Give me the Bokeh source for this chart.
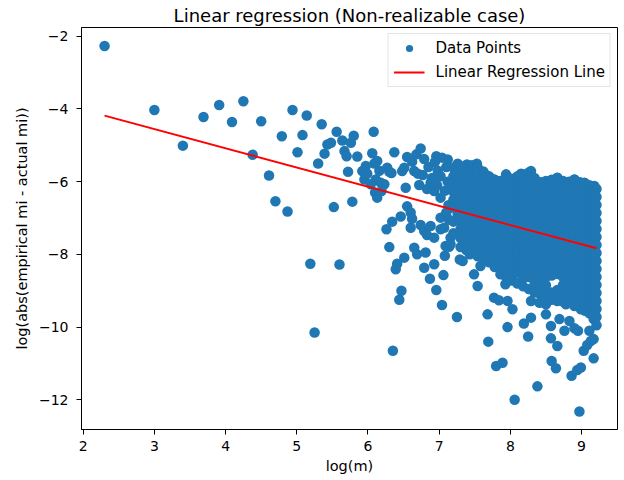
from bokeh.plotting import figure
from bokeh.models import Legend, LegendItem, FixedTicker
from bokeh.embed import file_html
from bokeh.resources import INLINE

# ---- data (x = log(m), y = log(abs(empirical mi - actual mi))) ----
left_m = [2.30, 3.00, 3.40, 3.69, 3.91, 4.09, 4.25, 4.38, 4.50, 4.61, 4.70, 4.79, 4.87, 4.94, 5.01, 5.08, 5.14]
left_err = [-2.27, -4.03, -5.01, -4.22, -3.89, -4.36, -3.79, -5.26, -4.34, -5.83, -6.54, -4.75, -6.82, -4.03, -5.19, -4.72, -4.18]

mid1_m = [5.19, 5.25, 5.30, 5.35, 5.39, 5.43, 5.48, 5.52, 5.56, 5.60, 5.64, 5.67, 5.70, 5.72, 5.76, 5.78, 5.80]
mid1_err = [-8.26, -10.15, -5.50, -4.42, -5.23, -4.98, -4.93, -6.70, -4.63, -8.28, -4.87, -5.16, -5.30, -5.73, -4.93, -6.55, -4.74]

mid2_m = [5.85, 5.92, 5.95, 5.97, 5.99, 6.04, 6.06, 6.08, 6.09, 6.10, 6.11, 6.13, 6.13, 6.16, 6.18, 6.19, 6.23, 6.26, 6.27, 6.30, 6.33, 6.34, 6.35, 6.37]
mid2_err = [-5.31, -5.71, -5.94, -5.57, -5.78, -6.07, -5.22, -4.63, -5.50, -6.30, -5.94, -6.44, -5.43, -5.70, -6.03, -6.26, -6.07, -7.31, -5.62, -5.73, -5.76, -7.10, -10.65, -5.19]

mid3_m = [6.30, 6.39, 6.41, 6.44, 6.46, 6.47, 6.48, 6.51, 6.51, 6.53,
          6.55, 6.55, 6.60, 6.60, 6.62, 6.62, 6.65, 6.65, 6.68, 6.69,
          6.70, 6.72, 6.74, 6.74, 6.77, 6.79, 6.79, 6.79, 6.81, 6.83,
          6.83, 6.85, 6.87, 6.88, 6.88, 6.90, 6.93, 6.93, 6.93, 6.94,
          6.96, 6.96, 6.97, 6.98]
mid3_err = [-7.80, -8.41, -8.26, -9.25, -6.96, -9.00, -5.71, -8.09, -5.62, -6.17,
            -5.32, -6.68, -6.85, -7.27, -5.45, -7.02, -5.71, -7.82, -5.25, -8.00,
            -5.78, -6.09, -5.09, -7.19, -5.82, -5.38, -7.36, -8.37, -7.95, -7.47,
            -6.20, -5.60, -8.67, -6.03, -7.22, -5.90, -6.26, -7.54, -8.27, -5.46,
            -8.98, -5.30, -6.10, -5.70]

mid4_m = [7.02, 7.02, 7.02, 7.02, 7.04, 7.04, 7.06, 7.07, 7.08, 7.09,
          7.10, 7.12, 7.12, 7.13, 7.14, 7.14, 7.16, 7.16, 7.16, 7.08,
          7.10, 7.25, 7.26, 7.29]
mid4_err = [-5.85, -6.44, -6.99, -7.31, -5.34, -9.39, -8.57, -7.27, -8.04, -7.77,
            -5.60, -5.39, -6.00, -6.65, -7.05, -7.79, -6.17, -7.54, -7.72, -6.25,
            -6.85, -9.72, -6.90, -8.14]

top_m = [7.26, 7.39, 7.53, 7.63, 7.77, 7.94, 8.15, 8.29, 8.43, 8.66, 8.90, 9.04, 9.18]
top_err = [-5.51, -5.53, -5.51, -5.76, -5.94, -5.80, -5.78, -5.71, -6.03, -5.89, -5.94, -6.03, -6.12]

low_m = [7.33, 7.43, 7.49, 7.54, 7.58, 7.60, 7.68, 7.69, 7.77, 7.80,
         7.84, 7.89, 7.93, 7.96, 7.96, 8.03, 8.06, 8.10, 8.19, 8.25,
         8.29, 8.29, 8.31, 8.38, 8.41, 8.50, 8.50, 8.57, 8.57, 8.58,
         8.64, 8.66, 8.66, 8.69, 8.76, 8.78, 8.83, 8.86, 8.90, 8.94,
         8.95, 8.97, 8.99, 8.99, 9.03, 9.08, 9.11, 9.13, 9.13, 9.17,
         9.17, 9.17]
low_err = [-8.18, -8.00, -8.55, -8.87, -8.32, -8.04, -9.65, -10.40, -9.19, -11.07,
           -9.26, -10.98, -8.82, -10.00, -9.28, -9.51, -12.00, -8.78, -9.90, -10.26,
           -9.74, -9.28, -8.96, -11.63, -9.33, -9.65, -9.37, -10.31, -9.97, -10.93,
           -11.13, -10.52, -9.28, -9.78, -10.10, -9.37, -9.83, -11.34, -10.03, -11.18,
           -10.10, -12.32, -11.11, -9.51, -10.65, -10.49, -10.10, -10.38, -9.46, -10.86,
           -10.33, -9.78]

# dense cloud: column positions and the values read in each column
blob_m = [7.20, 7.30, 7.38, 7.46, 7.54, 7.62, 7.70, 7.78, 7.86, 7.94,
          8.02, 8.10, 8.18, 8.26, 8.34, 8.42, 8.50, 8.58, 8.66, 8.74,
          8.82, 8.90, 8.98, 9.05, 9.11, 9.16, 9.21]
blob_err = [
    [-5.62, -5.85, -6.05, -6.28, -6.50, -6.72, -7.10, -7.42],
    [-5.58, -5.80, -6.02, -6.22, -6.45, -6.66, -6.88, -7.08, -7.30, -7.55, -7.80],
    [-5.70, -5.92, -6.12, -6.35, -6.55, -6.78, -6.98, -7.20, -7.42, -7.64, -7.88],
    [-5.55, -5.78, -6.00, -6.20, -6.42, -6.62, -6.85, -7.05, -7.26, -7.50, -7.70, -7.95],
    [-5.60, -5.84, -6.06, -6.28, -6.48, -6.70, -6.92, -7.12, -7.35, -7.56, -7.78, -8.05],
    [-5.72, -5.95, -6.15, -6.38, -6.58, -6.80, -7.00, -7.22, -7.44, -7.66, -7.88, -8.15],
    [-5.85, -6.06, -6.28, -6.48, -6.70, -6.90, -7.12, -7.33, -7.55, -7.76, -7.98, -8.22],
    [-5.95, -6.16, -6.38, -6.60, -6.80, -7.02, -7.24, -7.45, -7.66, -7.88, -8.10, -8.35],
    [-5.98, -6.20, -6.42, -6.62, -6.85, -7.06, -7.28, -7.50, -7.72, -7.94, -8.16, -8.40, -8.55],
    [-5.82, -6.05, -6.26, -6.48, -6.70, -6.92, -7.14, -7.35, -7.58, -7.80, -8.02, -8.24, -8.46, -8.62],
    [-5.92, -6.14, -6.36, -6.58, -6.80, -7.02, -7.24, -7.46, -7.68, -7.90, -8.12, -8.35, -8.58, -8.72],
    [-5.85, -6.08, -6.30, -6.52, -6.74, -6.96, -7.18, -7.40, -7.62, -7.84, -8.06, -8.28, -8.50, -8.80],
    [-5.80, -6.02, -6.24, -6.46, -6.68, -6.90, -7.12, -7.34, -7.56, -7.78, -8.00, -8.22, -8.44, -8.66, -8.88],
    [-5.75, -5.98, -6.20, -6.42, -6.64, -6.86, -7.08, -7.30, -7.52, -7.74, -7.96, -8.18, -8.40, -8.62, -8.95],
    [-5.90, -6.12, -6.34, -6.56, -6.78, -7.00, -7.22, -7.44, -7.66, -7.88, -8.10, -8.32, -8.54, -8.76, -9.05],
    [-6.02, -6.24, -6.46, -6.68, -6.90, -7.12, -7.34, -7.56, -7.78, -8.00, -8.22, -8.44, -8.66, -8.88, -9.10],
    [-5.98, -6.20, -6.42, -6.64, -6.86, -7.08, -7.30, -7.52, -7.74, -7.96, -8.18, -8.40, -8.62, -8.85, -9.08, -9.22],
    [-5.95, -6.17, -6.39, -6.61, -6.83, -7.05, -7.27, -7.49, -7.71, -7.93, -8.15, -8.37, -8.58, -9.05, -9.25],
    [-5.90, -6.12, -6.34, -6.56, -6.78, -7.00, -7.22, -7.44, -7.66, -7.88, -8.10, -8.32, -8.54, -8.98, -9.20],
    [-5.98, -6.20, -6.42, -6.64, -6.86, -7.08, -7.30, -7.52, -7.74, -7.96, -8.18, -8.40, -8.62, -8.84, -9.06, -9.30],
    [-6.00, -6.22, -6.44, -6.66, -6.88, -7.10, -7.32, -7.54, -7.76, -7.98, -8.20, -8.42, -8.64, -8.86, -9.08, -9.32],
    [-5.95, -6.17, -6.39, -6.61, -6.83, -7.05, -7.27, -7.49, -7.71, -7.93, -8.15, -8.37, -8.59, -8.81, -9.03, -9.25, -9.42],
    [-6.02, -6.24, -6.46, -6.68, -6.90, -7.12, -7.34, -7.56, -7.78, -8.00, -8.22, -8.44, -8.66, -8.88, -9.10, -9.32],
    [-6.05, -6.27, -6.49, -6.71, -6.93, -7.15, -7.37, -7.59, -7.81, -8.03, -8.25, -8.47, -8.69, -8.91, -9.13, -9.35, -9.55],
    [-6.10, -6.32, -6.54, -6.76, -6.98, -7.20, -7.42, -7.64, -7.86, -8.08, -8.30, -8.52, -8.74, -8.96, -9.18, -9.40, -9.62],
    [-6.14, -6.36, -6.58, -6.80, -7.02, -7.24, -7.46, -7.68, -7.90, -8.12, -8.34, -8.56, -8.78, -9.00, -9.22, -9.44, -9.66],
    [-6.20, -6.42, -6.64, -6.86, -7.08, -7.30, -7.52, -7.74, -7.96, -8.18, -8.40, -8.62, -8.84, -9.06, -9.28, -9.50, -9.72, -9.95],
]

# regression line
fit_slope = -0.528
fit_intercept = -2.97

x_ticks = [2, 3, 4, 5, 6, 7, 8, 9]
y_ticks = [-12, -10, -8, -6, -4, -2]
y_tick_labels = ["\u221212", "\u221210", "\u22128", "\u22126", "\u22124", "\u22122"]

# ---- assemble ----
xs, ys = [], []
for mm, ee in [(left_m, left_err), (mid1_m, mid1_err), (mid2_m, mid2_err), (mid3_m, mid3_err),
               (mid4_m, mid4_err), (top_m, top_err), (low_m, low_err)]:
    xs += mm
    ys += ee
for m, col in zip(blob_m, blob_err):
    xs += [m] * len(col)
    ys += col

line_x = [min(xs), max(xs)]
line_y = [fit_intercept + fit_slope * v for v in line_x]

FONT = "DejaVu Sans"
p = figure(width=624, height=480, output_backend="svg", toolbar_location=None,
           x_range=(1.976, 9.505), y_range=(-12.816, -1.761),
           min_border_left=81, min_border_right=7, min_border_top=26, min_border_bottom=51,
           title="Linear regression (Non-realizable case)")
p.title.align = "center"
p.title.text_font = FONT
p.title.text_font_size = "18px"
p.title.text_font_style = "normal"
p.title.text_color = "black"
p.title.standoff = 4

sc = p.scatter(xs, ys, size=10.5, fill_color="#1f77b4", line_color=None)
ln = p.line(line_x, line_y, line_color="red", line_width=2)

p.xgrid.visible = False
p.ygrid.visible = False
p.outline_line_color = "black"
p.outline_line_width = 1
p.background_fill_color = "white"

p.xaxis.ticker = FixedTicker(ticks=x_ticks)
p.yaxis.ticker = FixedTicker(ticks=y_ticks)
p.yaxis.major_label_overrides = {float(t): l for t, l in zip(y_ticks, y_tick_labels)}
for ax in (p.xaxis, p.yaxis):
    ax.axis_line_color = "black"
    ax.major_tick_line_color = "black"
    ax.minor_tick_line_color = None
    ax.major_tick_out = 5
    ax.major_tick_in = 0
    ax.major_label_text_font = FONT
    ax.major_label_text_font_size = "14px"
    ax.major_label_text_color = "black"
    ax.axis_label_text_font = FONT
    ax.axis_label_text_font_size = "14.5px"
    ax.axis_label_text_font_style = "normal"
    ax.axis_label_text_color = "black"
p.xaxis.axis_label = "log(m)"
p.yaxis.axis_label = "log(abs(empirical mi - actual mi))"
p.xaxis.major_label_standoff = 6
p.yaxis.major_label_standoff = 8
p.xaxis.axis_label_standoff = 4
p.yaxis.axis_label_standoff = 6

legend = Legend(items=[LegendItem(label="Data Points", renderers=[sc]),
                       LegendItem(label="Linear Regression Line", renderers=[ln])],
                location="top_right", margin=6, padding=5, spacing=6,
                label_height=18, glyph_height=18, glyph_width=31, label_standoff=11,
                label_text_font=FONT, label_text_font_size="15px", label_text_color="black",
                border_line_color="#cccccc", border_line_width=1,
                background_fill_color="white", background_fill_alpha=0.8)
p.add_layout(legend)

open("out.html", "w").write(file_html(p, INLINE))
